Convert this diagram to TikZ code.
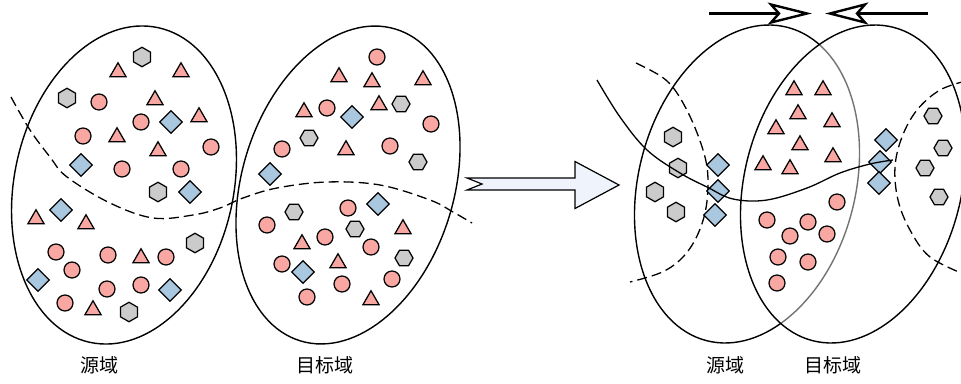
\documentclass[tikz,border=0pt]{standalone}
\usepackage{fontspec}
\newfontfamily\cjk{Noto Sans CJK SC}
\usetikzlibrary{shapes.geometric}
\definecolor{ptpink}{HTML}{F8A7A2}
\definecolor{ptblue}{HTML}{A9C7DE}
\definecolor{ptgray}{HTML}{CBCBCB}
\definecolor{arrowfill}{HTML}{EEF3FC}
\tikzset{
  mark base/.style={draw=black, line width=1.25pt, inner sep=0pt, outer sep=0pt},
  dotmk/.style={mark base, circle, fill=ptpink, minimum size=16pt},
  trimk/.style={mark base, regular polygon, regular polygon sides=3, fill=ptpink, minimum size=18.5pt},
  hexup/.style={mark base, regular polygon, regular polygon sides=6, fill=ptgray, minimum size=19.5pt, rotate=30},
  hexflat/.style={mark base, regular polygon, regular polygon sides=6, fill=ptgray, minimum size=18pt},
  diamk/.style={mark base, diamond, fill=ptblue, minimum size=22.5pt},
  domline/.style={line width=1.4pt},
  sepline/.style={line width=1.3pt, dash pattern=on 10pt off 5pt},
  captext/.style={font=\cjk\fontsize{19pt}{19pt}\selectfont, inner sep=0pt},
  pullshaft/.style={line width=2.6pt},
  pullhead/.style={line width=2.4pt, fill=white, line join=miter},
}
\begin{document}
\begin{tikzpicture}[x=1pt, y=-1pt]
\useasboundingbox (0,0) rectangle (961,383);
\fill[white] (0,0) rectangle (961,383);

% ---------- left panel: two separate domains ----------
\draw[domline, rotate around={-12.3:(124,185)}] (124,185) ellipse [x radius=109.6, y radius=161];
\draw[domline, rotate around={-17:(348,185)}] (348,185) ellipse [x radius=106, y radius=163];

\draw[sepline] plot[smooth, tension=0.6] coordinates {(11,97) (30,130) (50,157) (67,177) (110,203) (153,218) (193,215) (220,208) (243,198) (277,188) (327,182) (380,185) (430,200) (453,212) (472,223)};

% source domain samples
\foreach \x/\y [count=\i] in {142/57, 67/98, 158/192, 195/243, 129/312}
  \node[hexup] (sh\i) at (\x,\y) {};
\foreach \x/\y [count=\i] in {118/72, 181/72, 155/100, 199/117, 117/137, 158/151, 36/219, 86/224, 141/258, 93/310}
  \node[trimk] (st\i) at (\x,\y) {};
\foreach \x/\y [count=\i] in {99/102, 141/122, 83/136, 211/147, 122/169, 181/169, 56/252, 108/255, 166/257, 72/270, 107/289, 141/285, 65/303}
  \node[dotmk] (sc\i) at (\x,\y) {};
\foreach \x/\y [count=\i] in {171/122, 81/165, 190/192, 61/210, 38/280, 170/290}
  \node[diamk] (sd\i) at (\x,\y) {};

% target domain samples
\foreach \x/\y [count=\i] in {377/57, 327/108, 431/124, 282/149, 390/146, 348/208, 267/225, 325/237, 371/247, 282/264, 342/284, 392/279, 307/297}
  \node[dotmk] (tc\i) at (\x,\y) {};
\foreach \x/\y [count=\i] in {339/77, 372/82, 423/80, 304/112, 379/105, 346/150, 403/229, 302/244, 338/263, 371/300}
  \node[trimk] (tt\i) at (\x,\y) {};
\foreach \x/\y [count=\i] in {401/104, 309/138, 418/162, 294/212, 355/229, 404/258}
  \node[hexflat] (th\i) at (\x,\y) {};
\foreach \x/\y [count=\i] in {352/117, 270/174, 378/204, 303/272}
  \node[diamk] (td\i) at (\x,\y) {};

\node[captext] (srcL) at (99,365) {源域};
\node[captext] (tgtL) at (325,365) {目标域};

% ---------- transfer arrow ----------
\draw[line width=1.2pt, fill=arrowfill, line join=miter]
  (467,178) -- (575,178) -- (575,161.5) -- (619,185) -- (575,208.5) -- (575,190) -- (467,190) -- (482,184) -- cycle;

% ---------- right panel: aligned domains ----------
\draw[domline, rotate around={-14.5:(747,184)}] (747,184) ellipse [x radius=108.4, y radius=161.8];
\begin{scope}
  \clip[rotate around={-14.5:(853,184)}] (853,184) ellipse [x radius=108.4, y radius=161.8];
  \draw[white, line width=3.2pt, rotate around={-14.5:(747,184)}] (747,184) ellipse [x radius=108.4, y radius=161.8];
  \draw[line width=1.4pt, draw=black!55, rotate around={-14.5:(747,184)}] (747,184) ellipse [x radius=108.4, y radius=161.8];
\end{scope}
\draw[domline, rotate around={-14.5:(853,184)}] (853,184) ellipse [x radius=108.4, y radius=161.8];

\draw[sepline] plot[smooth, tension=0.6] coordinates {(636,63) (662,77) (677,93) (693,123) (705,157) (708,183) (705,213) (695,240) (680,260) (660,273) (630,282)};
\draw[sepline] plot[smooth, tension=0.6] coordinates {(966,81) (940,90) (917,110) (902,137) (895,167) (898,200) (910,230) (930,257) (966,275)};

\foreach \x/\y [count=\i] in {673/137, 678/168, 655/192, 676/212}
  \node[hexup] (ah\i) at (\x,\y) {};
\foreach \x/\y [count=\i] in {718/165, 718/191, 715/215, 886/140, 880/162, 879/183}
  \node[diamk] (ad\i) at (\x,\y) {};
\foreach \x/\y [count=\i] in {794/90, 823/90, 798/114, 832/122, 776/129, 800/145, 833/157, 763/165, 790/169}
  \node[trimk] (at\i) at (\x,\y) {};
\foreach \x/\y [count=\i] in {837/202, 767/220, 808/222, 790/236, 827/234, 778/257, 808/262, 777/283}
  \node[dotmk] (ac\i) at (\x,\y) {};
\foreach \x/\y [count=\i] in {933/116, 943/148, 925/168, 939/197}
  \node[hexflat] (bh\i) at (\x,\y) {};

\draw[line width=1.3pt] plot[smooth, tension=0.6] coordinates {(597,80) (620,117) (647,150) (680,173) (707,187) (733,199) (767,200) (807,188) (840,173) (870,164) (893,160)};

\node[captext] (srcR) at (725,365) {源域};
\node[captext] (tgtR) at (833,365) {目标域};

% ---------- pulling arrows ----------
\coordinate (pl0) at (709,13.5);
\coordinate (pl1) at (780,13.5);
\coordinate (pr0) at (928,13.5);
\coordinate (pr1) at (857,13.5);
\draw[pullshaft] (pl0) -- (pl1);
\draw[pullshaft] (pr0) -- (pr1);
\draw[pullhead] (771,4.5) -- (807,13.5) -- (771,22.5) -- (779,13.5) -- cycle;
\draw[pullhead] (865,4.5) -- (830,13.5) -- (865,22.5) -- (857,13.5) -- cycle;
\end{tikzpicture}
\end{document}
